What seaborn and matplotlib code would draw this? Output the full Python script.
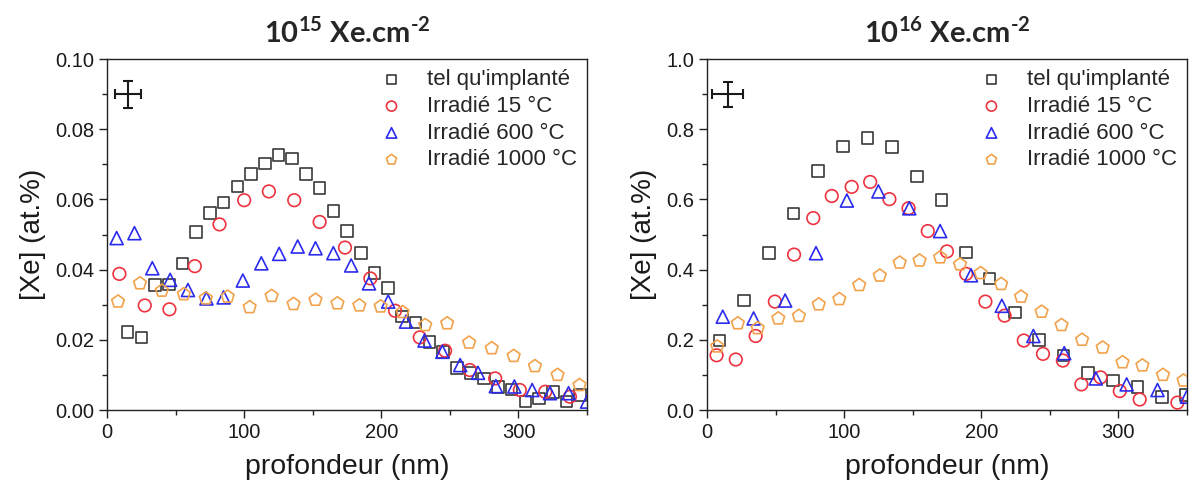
import numpy as np
import seaborn as sns
import matplotlib.pyplot as plt
from matplotlib.ticker import MultipleLocator, FormatStrFormatter

# ---- 10^15 Xe.cm-2 : depth (nm) / [Xe] (at.%) ----
sq_x_15 = [15, 25, 35, 45, 55, 65, 75, 85, 95, 105, 115, 125, 135, 145, 155, 165, 175,
           185, 195, 205, 215, 225, 235, 245, 255, 265, 275, 285, 295, 305, 315, 325, 335, 345]
sq_y_15 = [0.0222, 0.0207, 0.0356, 0.0358, 0.0418, 0.0508, 0.0561, 0.0591, 0.0637, 0.0673,
           0.0703, 0.0727, 0.0717, 0.0673, 0.0632, 0.0567, 0.0511, 0.0448, 0.0390, 0.0348,
           0.0266, 0.0249, 0.0193, 0.0165, 0.0119, 0.0106, 0.0090, 0.0065, 0.0059, 0.0024,
           0.0033, 0.0052, 0.0024, 0.0043]
ci_x_15 = [9, 27.5, 45.5, 64, 82, 100, 118, 136.5, 155, 173.5, 192, 210, 228, 246.5,
           264.5, 283, 301, 319.5, 337.5]
ci_y_15 = [0.0388, 0.0298, 0.0287, 0.0410, 0.0529, 0.0598, 0.0623, 0.0598, 0.0536, 0.0463,
           0.0375, 0.0283, 0.0207, 0.0169, 0.0114, 0.0090, 0.0057, 0.0052, 0.0038]
tr_x_15 = [7, 20, 33, 46, 59, 72.5, 85, 99, 112.5, 125.5, 139, 152, 165, 178, 191, 205,
           218, 231.5, 244.5, 257.5, 270.5, 283.5, 297, 310, 323, 336.5, 350]
tr_y_15 = [0.0490, 0.0504, 0.0404, 0.0371, 0.0342, 0.0318, 0.0321, 0.0369, 0.0418, 0.0445,
           0.0466, 0.0461, 0.0447, 0.0412, 0.0361, 0.0309, 0.0252, 0.0198, 0.0166, 0.0128,
           0.0106, 0.0068, 0.0067, 0.0057, 0.0048, 0.0048, 0.0024]
pe_x_15 = [8, 24, 40, 56, 72, 88, 104, 120, 136, 152, 168, 184, 199.5, 215.5, 232, 248,
           264, 280.5, 296.5, 312, 328.5, 344.5]
pe_y_15 = [0.0309, 0.0361, 0.0340, 0.0330, 0.0318, 0.0323, 0.0293, 0.0325, 0.0302, 0.0314,
           0.0304, 0.0298, 0.0295, 0.0279, 0.0242, 0.0247, 0.0192, 0.0176, 0.0154, 0.0125,
           0.0100, 0.0071]

# ---- 10^16 Xe.cm-2 ----
sq_x_16 = [9, 27, 45, 63, 81, 99, 117, 135, 153, 171, 189, 206, 224.5, 242, 260, 278, 296,
           314, 332, 349.5]
sq_y_16 = [0.198, 0.312, 0.447, 0.560, 0.682, 0.751, 0.776, 0.749, 0.665, 0.598, 0.449,
           0.375, 0.278, 0.200, 0.155, 0.105, 0.084, 0.065, 0.037, 0.043]
ci_x_16 = [7, 21, 35.5, 49.5, 63.5, 77.5, 91, 105.5, 119, 133, 147, 161, 175, 189, 203,
           217, 231, 245, 259.5, 273, 287, 301, 315.5, 343]
ci_y_16 = [0.156, 0.144, 0.211, 0.309, 0.443, 0.547, 0.610, 0.636, 0.650, 0.601, 0.575,
           0.510, 0.452, 0.388, 0.309, 0.269, 0.198, 0.160, 0.141, 0.073, 0.093, 0.054,
           0.030, 0.021]
tr_x_16 = [11.5, 34, 57, 79.5, 102, 125, 147.5, 170, 192.5, 215, 238, 260.5, 283.5, 306,
           328.5, 350]
tr_y_16 = [0.266, 0.261, 0.312, 0.447, 0.597, 0.623, 0.575, 0.510, 0.384, 0.297, 0.211,
           0.162, 0.090, 0.073, 0.057, 0.038]
pe_x_16 = [7.5, 22.5, 37, 52, 67, 81.5, 96.5, 111, 126, 140.5, 155, 170, 184.5, 199.5,
           214.5, 229, 244, 258.5, 273.5, 288.5, 303, 317.5, 332.5, 347.5]
pe_y_16 = [0.181, 0.247, 0.233, 0.261, 0.268, 0.301, 0.316, 0.356, 0.383, 0.420, 0.426,
           0.435, 0.415, 0.390, 0.359, 0.323, 0.280, 0.242, 0.200, 0.178, 0.136, 0.127,
           0.100, 0.084]

labels = ["tel qu'implanté", "Irradié 15 °C", "Irradié 600 °C", "Irradié 1000 °C"]
markers = ["s", "o", "^", "p"]
colors = ["#3a3a3a", "#ee3340", "#2b2bee", "#f2a24a"]
sizes = [70, 82, 88, 92]

# typical uncertainty cross (x, y, dx, dy)
err_15 = [15, 0.090, 9.5, 0.0038]
err_16 = [15, 0.90, 11.5, 0.035]

sns.set_style("ticks")
plt.rcParams['font.family'] = ['Liberation Sans', 'DejaVu Sans']
plt.rcParams['mathtext.fontset'] = 'custom'
plt.rcParams['mathtext.rm'] = 'Lato:bold'
plt.rcParams['mathtext.bf'] = 'Lato:bold'


def draw_panel(ax, series, ymax, ymajor, fmt, err, title):
    for (x, y), lab, mk, col, s in zip(series, labels, markers, colors, sizes):
        sns.scatterplot(x=x, y=y, ax=ax, marker=mk, s=s, facecolors='none',
                        edgecolor=col, linewidth=1.2, label=lab, legend=False, zorder=3)
    # error cross
    ax.errorbar([err[0]], [err[1]], xerr=[err[2]], yerr=[err[3]], fmt='none',
                ecolor='#1a1a1a', elinewidth=1.5, capsize=3.5, capthick=1.5)

    ax.set_xlim(0, 350)
    ax.set_ylim(0, ymax)
    ax.xaxis.set_major_locator(MultipleLocator(100))
    ax.xaxis.set_minor_locator(MultipleLocator(50))
    ax.yaxis.set_major_locator(MultipleLocator(ymajor))
    ax.yaxis.set_minor_locator(MultipleLocator(ymajor / 2))
    ax.yaxis.set_major_formatter(FormatStrFormatter(fmt))
    ax.tick_params(which='major', direction='out', length=6, width=1.0,
                   labelsize=14.5, pad=3, color='#222222', labelcolor='#1a1a1a')
    ax.tick_params(which='minor', direction='out', length=3.5, width=1.0, color='#222222')
    for sp in ax.spines.values():
        sp.set_linewidth(1.0)
        sp.set_color('#222222')

    ax.set_xlabel("profondeur (nm)", fontsize=20.5, labelpad=9, color='#1a1a1a')
    ax.set_ylabel("[Xe] (at.%)", fontsize=20, labelpad=7, color='#1a1a1a')
    ax.set_title(title, fontsize=21, pad=12, family='Lato', fontweight='bold')

    ax.legend(loc='upper right', bbox_to_anchor=(1.0, 1.0), frameon=False,
              fontsize=16, borderaxespad=0, borderpad=0.45, labelspacing=0.26,
              handlelength=1.2, handletextpad=1.0, markerscale=0.8)


fig = plt.figure(figsize=(11.92, 4.88), dpi=100)
ax1 = fig.add_axes([0.0898, 0.1598, 0.4027, 0.719])
ax2 = fig.add_axes([0.5931, 0.1598, 0.4027, 0.719])

draw_panel(ax1, [(sq_x_15, sq_y_15), (ci_x_15, ci_y_15), (tr_x_15, tr_y_15), (pe_x_15, pe_y_15)],
           0.10, 0.02, '%.2f', err_15, r'10$^{15}$ Xe.cm$^{\text{-}2}$')
draw_panel(ax2, [(sq_x_16, sq_y_16), (ci_x_16, ci_y_16), (tr_x_16, tr_y_16), (pe_x_16, pe_y_16)],
           1.0, 0.2, '%.1f', err_16, r'10$^{16}$ Xe.cm$^{\text{-}2}$')

fig.savefig("out.png", dpi=100)
